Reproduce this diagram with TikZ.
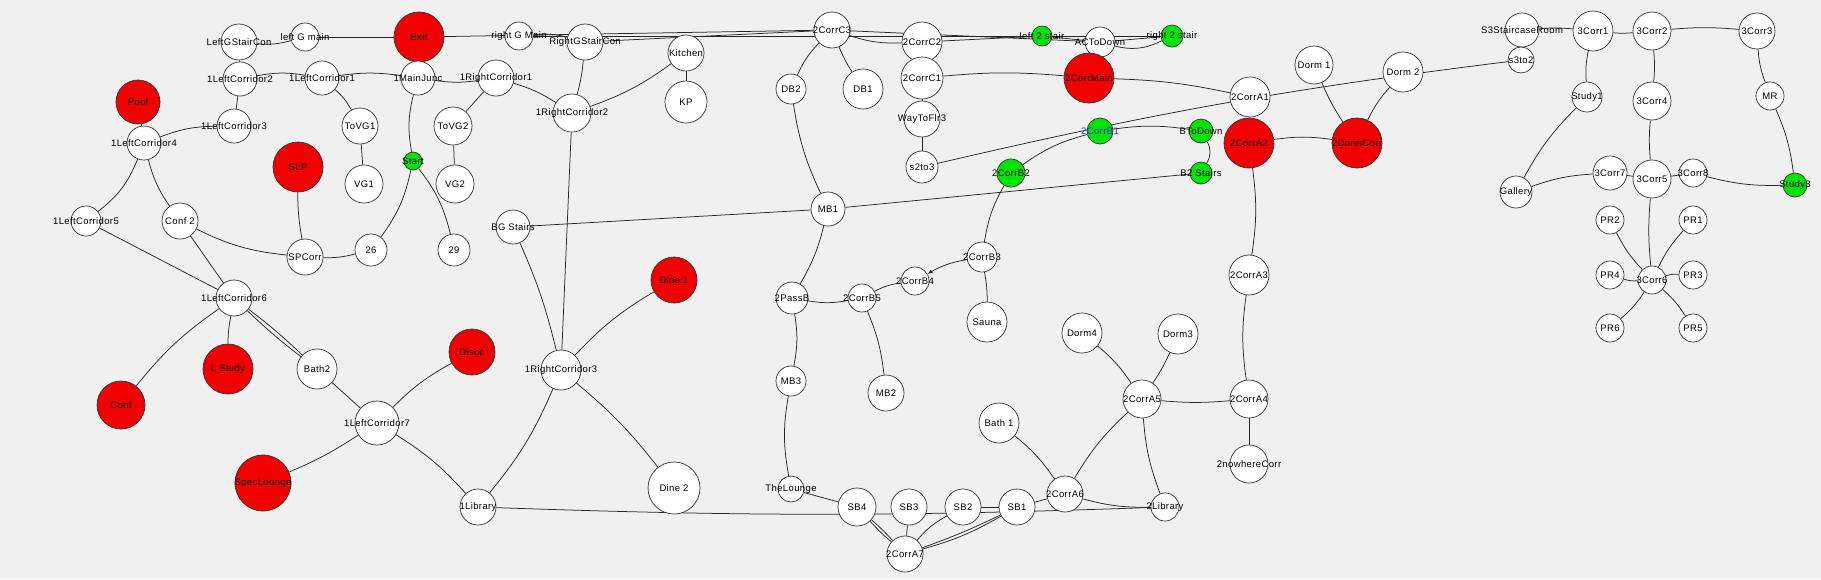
\documentclass[tikz,border=0pt]{standalone}
\usepackage{fontspec}
\newfontfamily\roomfont{Liberation Sans}[LetterSpace=4]
\usetikzlibrary{positioning,arrows.meta}
\pgfdeclarelayer{background}
\pgfsetlayers{background,main}
\definecolor{bgcol}{RGB}{240,240,240}
\definecolor{exitred}{RGB}{240,0,0}
\definecolor{stairgreen}{RGB}{0,228,0}
\definecolor{pickblue}{RGB}{40,40,230}
\newcommand{\rlabel}[1]{\makebox[0pt]{#1}}
\tikzset{
  room/.style={circle,draw=black!80,fill=white,line width=0.7pt,minimum size=#1,inner sep=0pt,font=\roomfont\fontsize{9.5}{10}\selectfont},
  hot/.style={room=#1,fill=exitred},
  stair/.style={room=#1,fill=stairgreen},
  link/.style={draw=black!85,line width=0.75pt}
}
\begin{document}
\begin{tikzpicture}[x=1pt,y=1pt]
	\begin{pgfonlayer}{background}
		\fill[bgcol] (0,0) rectangle (1821,-579);
	\end{pgfonlayer}
	\useasboundingbox (0,0) rectangle (1821,-579);
	% ground floor, left wing
	\node[room=36] (lgsc) at (239,-42) {\rlabel{LeftGStairCon}};
	\node[room=28] (lgm) at (305,-37) {\rlabel{left G main}};
	\node[hot=50] (exit) at (419,-37) {\rlabel{Exit}};
	\node[room=28] (rgm) at (519,-36) {\rlabel{right G Main}};
	\node[room=36] (rgsc) at (585,-42) {\rlabel{RightGStairCon}};
	\node[room=34] (lc1) at (322,-78) {\rlabel{1LeftCorridor1}};
	\node[room=34] (lc2) at (240,-79) {\rlabel{1LeftCorridor2}};
	\node[room=34] (lc3) at (234,-126) {\rlabel{1LeftCorridor3}};
	\node[room=34] (lc4) at (144,-143) {\rlabel{1LeftCorridor4}};
	\node[room=30] (lc5) at (86,-221) {\rlabel{1LeftCorridor5}};
	\node[room=36] (lc6) at (234,-298) {\rlabel{1LeftCorridor6}};
	\node[room=44] (lc7) at (377,-423) {\rlabel{1LeftCorridor7}};
	\node[hot=44] (pool) at (138,-102) {\rlabel{Pool}};
	\node[room=36] (conftwo) at (180,-221) {\rlabel{Conf 2}};
	\node[hot=50] (slp) at (298,-167) {\rlabel{SLP}};
	\node[room=36] (spc) at (305,-257) {\rlabel{SPCorr}};
	\node[hot=48] (conf) at (121,-405) {\rlabel{Conf}};
	\node[hot=50] (lstudy) at (228,-369) {\rlabel{L Study}};
	\node[room=40] (bath2) at (317,-369) {\rlabel{Bath2}};
	\node[hot=56] (spec) at (263,-483) {\rlabel{SpecLounge}};
	\node[hot=46] (disco) at (472,-352) {\rlabel{Disco}};
	\node[room=36] (lib1) at (478,-507) {\rlabel{1Library}};
	% ground floor, centre and right wing
	\node[room=34] (mj) at (418,-78) {\rlabel{1MainJunc}};
	\node[room=36] (rc1) at (496,-78) {\rlabel{1RightCorridor1}};
	\node[room=38] (rc2) at (572,-113) {\rlabel{1RightCorridor2}};
	\node[room=40] (rc3) at (561,-370) {\rlabel{1RightCorridor3}};
	\node[room=36] (tovg1) at (360,-126) {\rlabel{ToVG1}};
	\node[room=38] (tovg2) at (453,-126) {\rlabel{ToVG2}};
	\node[stair=18] (start) at (413,-161) {\rlabel{Start}};
	\node[room=38] (vg1) at (364,-184) {\rlabel{VG1}};
	\node[room=38] (vg2) at (455,-184) {\rlabel{VG2}};
	\node[room=32] (n26) at (371,-250) {\rlabel{26}};
	\node[room=32] (n29) at (454,-250) {\rlabel{29}};
	\node[room=34] (bgs) at (513,-227) {\rlabel{BG Stairs}};
	\node[room=36] (kit) at (686,-53) {\rlabel{Kitchen}};
	\node[room=42] (kp) at (686,-102) {\rlabel{KP}};
	\node[hot=46] (dine1) at (674,-280) {\rlabel{Dine 1}};
	\node[room=52] (dine2) at (674,-488) {\rlabel{Dine 2}};
	% second floor
	\node[room=36] (c3) at (832,-30) {\rlabel{2CorrC3}};
	\node[room=40] (c2) at (922,-42) {\rlabel{2CorrC2}};
	\node[room=42] (c1) at (922,-78) {\rlabel{2CorrC1}};
	\node[room=36] (wtf) at (922,-119) {\rlabel{WayToFlr3}};
	\node[room=32] (s23) at (922,-167) {\rlabel{s2to3}};
	\node[room=30] (db2) at (791,-89) {\rlabel{DB2}};
	\node[room=40] (db1) at (863,-89) {\rlabel{DB1}};
	\node[room=34] (mb1) at (828,-209) {\rlabel{MB1}};
	\node[stair=20] (l2s) at (1042,-36) {\rlabel{left 2 stair}};
	\node[room=30] (acd) at (1100,-42) {\rlabel{ACToDown}};
	\node[stair=22] (r2s) at (1172,-36) {\rlabel{right 2 stair}};
	\node[hot=50] (cmain) at (1089,-78) {\rlabel{2CorrMain}};
	\node[stair=26,text=pickblue] (b1) at (1100,-131) {\rlabel{2CorrB1}};
	\node[stair=24] (btd) at (1201,-131) {\rlabel{BToDown}};
	\node[stair=22] (b2s) at (1201,-173) {\rlabel{B2 Stairs}};
	\node[stair=28] (b2) at (1011,-173) {\rlabel{2CorrB2}};
	\node[room=30] (b3) at (982,-257) {\rlabel{2CorrB3}};
	\node[room=28] (b4) at (915,-281) {\rlabel{2CorrB4}};
	\node[room=28] (b5) at (862,-298) {\rlabel{2CorrB5}};
	\node[room=32] (pass) at (792,-298) {\rlabel{2PassB}};
	\node[room=30] (mb3) at (791,-381) {\rlabel{MB3}};
	\node[room=36] (mb2) at (886,-393) {\rlabel{MB2}};
	\node[room=40] (sauna) at (987,-322) {\rlabel{Sauna}};
	\node[room=26] (lounge) at (791,-489) {\rlabel{TheLounge}};
	\node[room=38] (sb4) at (857,-507) {\rlabel{SB4}};
	\node[room=36] (sb3) at (909,-507) {\rlabel{SB3}};
	\node[room=36] (sb2) at (963,-507) {\rlabel{SB2}};
	\node[room=36] (sb1) at (1017,-507) {\rlabel{SB1}};
	\node[room=36] (a7) at (905,-554) {\rlabel{2CorrA7}};
	\node[room=40] (a1) at (1250,-97) {\rlabel{2CorrA1}};
	\node[hot=50] (a2) at (1249,-143) {\rlabel{2CorrA2}};
	\node[hot=50] (dc) at (1357,-143) {\rlabel{2DormCorr}};
	\node[room=38] (d1) at (1314,-65) {\rlabel{Dorm 1}};
	\node[room=40] (d2) at (1403,-72) {\rlabel{Dorm 2}};
	\node[room=40] (a3) at (1249,-275) {\rlabel{2CorrA3}};
	\node[room=38] (a4) at (1249,-399) {\rlabel{2CorrA4}};
	\node[room=38] (nowhere) at (1249,-464) {\rlabel{2nowhereCorr}};
	\node[room=38] (a5) at (1142,-399) {\rlabel{2CorrA5}};
	\node[room=40] (d4) at (1082,-333) {\rlabel{Dorm4}};
	\node[room=40] (d3) at (1178,-334) {\rlabel{Dorm3}};
	\node[room=40] (bath1) at (999,-423) {\rlabel{Bath 1}};
	\node[room=36] (a6) at (1065,-494) {\rlabel{2CorrA6}};
	\node[room=28] (lib2) at (1165,-507) {\rlabel{2Library}};
	% third floor
	\node[room=34] (s3r) at (1522,-30) {\rlabel{S3StaircaseRoom}};
	\node[room=26] (s32) at (1521,-60) {\rlabel{s3to2}};
	\node[room=32] (gal) at (1516,-192) {\rlabel{Gallery}};
	\node[room=40] (k1) at (1593,-31) {\rlabel{3Corr1}};
	\node[room=38] (k2) at (1652,-31) {\rlabel{3Corr2}};
	\node[room=36] (k3) at (1757,-31) {\rlabel{3Corr3}};
	\node[room=30] (st1) at (1587,-97) {\rlabel{Study1}};
	\node[room=38] (k4) at (1652,-101) {\rlabel{3Corr4}};
	\node[room=28] (mr) at (1770,-96) {\rlabel{MR}};
	\node[room=34] (k7) at (1610,-173) {\rlabel{3Corr7}};
	\node[room=38] (k5) at (1652,-179) {\rlabel{3Corr5}};
	\node[room=28] (k8) at (1693,-173) {\rlabel{3Corr8}};
	\node[stair=24] (st3) at (1795,-185) {\rlabel{Study3}};
	\node[room=28] (k6) at (1652,-280) {\rlabel{3Corr6}};
	\foreach \n/\x/\y in {1/1693/220,2/1610/220,3/1693/275,4/1610/275,5/1693/328,6/1610/328}
		\node[room=28] (pr\n) at (\x,-\y) {\rlabel{PR\n}};
	% corridors
	\begin{pgfonlayer}{background}
		\foreach \a/\b in {lgsc/lc2,lc2/lc3,lc4/pool,lc5/lc6,conftwo/lc6,mj/exit,tovg1/vg1,rc1/tovg2,
			tovg2/vg2,rc2/rc3,kit/kp,bgs/mb1,lgm/exit,exit/c3,rgsc/c3,rgm/r2s,c3/acd,c2/l2s,l2s/acd,
			acd/r2s,c2/c1,c1/wtf,wtf/s23,mb1/b2s,a1/a2,a4/nowhere,a6/sb1,sb2/sb1,a7/sb3,lounge/sb4,
			bath2/lc7,s3r/s32,k7/k5,k5/k8}
			\draw[link] (\a) -- (\b);
		\foreach \a/\b/\s in {lc2/lc1/10,lc4/lc3/10,lc4/lc5/15,start/n29/12,start/mj/12,lc1/tovg1/10,
			rc1/rc2/8,rgm/rgsc/10,bgs/rc3/5,mb1/pass/8,pass/mb3/10,b5/b4/10,b5/mb2/8,b3/sauna/5,
			b3/b2/10,b2/b1/10,b1/btd/8,btd/b2s/30,s23/s32/3,c1/cmain/5,cmain/a1/5,a2/dc/8,a2/a3/8,
			a4/a5/5,bath1/a6/8,a7/sb4/3,a7/sb2/10,lc6/bath2/3,lc7/spec/5,lc7/disco/8,lc7/lib1/8,
			rc3/lib1/8,rc3/dine1/8,rc3/dine2/6,s3r/k1/5,k2/k3/5,gal/k7/8,k2/k4/5,mr/st3/8,
			k6/pr1/8,k6/pr2/8,k6/pr3/10,k6/pr4/10,k6/pr5/8,k6/pr6/8}
			\draw[link] (\a) to[bend left=\s] (\b);
		\foreach \a/\b/\s in {lgsc/lgm/10,lc4/conftwo/10,conftwo/spc/10,slp/spc/5,spc/n26/8,
			n26/start/12,mj/lc1/8,mj/rc1/8,rc2/rgsc/5,rc2/kit/8,c3/db2/10,c3/db1/5,c3/c2/10,
			db2/mb1/8,pass/b5/10,acd/r2s/20,d1/dc/5,d2/dc/8,a3/a4/8,a5/d4/8,a5/d3/5,a5/a6/8,
			a5/lib2/8,a6/lib2/8,lib1/lib2/2,a7/sb4/3,a7/sb1/3,a7/sb1/7,mb3/lounge/10,lc6/bath2/3,
			lc6/lstudy/5,lc6/conf/8,k1/k2/5,k1/st1/8,st1/gal/8,k4/k5/5,k8/st3/8,k3/mr/8,k5/k6/5}
			\draw[link] (\a) to[bend right=\s] (\b);
		\draw[link,-{Latex[length=5pt,width=4pt]}] (b3) to[bend right=10] (b4);
	\end{pgfonlayer}
\end{tikzpicture}
\end{document}
